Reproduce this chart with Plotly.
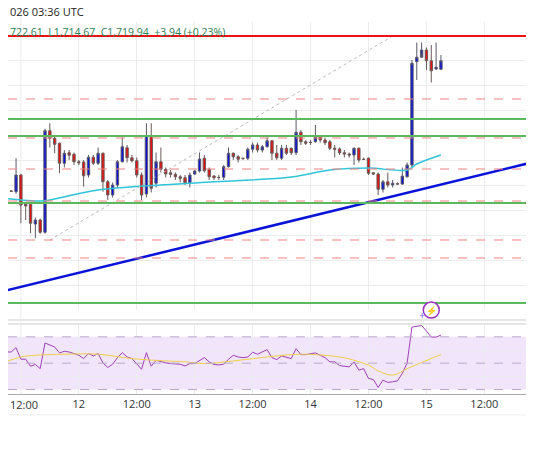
import plotly.graph_objects as go
import pandas as pd

opens = [1663.9,1667.9,1667.6,1667.3,1674.0,1662.3,1662.3,1654.4,1656.0,1651.1,1691.7,1688.7,1686.7,1678.7,1682.9,1682.3,1679.3,1679.2,1674.0,1681.1,
         1678.7,1682.7,1671.3,1666.0,1670.0,1679.3,1684.9,1680.9,1679.7,1674.0,1666.4,1689.6,1670.7,1679.3,1676.3,1674.9,1674.3,1673.3,1672.9,1670.9,
         1674.4,1675.6,1680.7,1676.3,1673.6,1673.1,1673.1,1677.3,1682.7,1681.3,1680.7,1680.7,1684.3,1686.0,1684.0,1685.3,1687.7,1682.7,1680.7,1684.7,
         1684.7,1682.9,1691.1,1687.3,1687.1,1687.3,1689.3,1688.0,1687.3,1684.7,1684.4,1682.9,1682.4,1682.0,1684.7,1680.3,1680.7,1674.9,1674.4,1668.3,
         1671.3,1670.0,1670.5,1670.4,1673.3,1678.0,1719.3,1721.1,1724.0,1719.7,1716.4,1716.3]
closes = [1667.9,1667.3,1667.5,1674.0,1662.0,1661.6,1654.7,1656.0,1651.1,1691.7,1688.7,1686.3,1678.7,1682.7,1681.9,1679.3,1678.9,1673.7,1681.1,1678.7,
          1682.7,1671.3,1666.0,1670.0,1679.3,1685.3,1680.9,1679.7,1674.0,1666.0,1689.7,1668.7,1679.3,1676.3,1674.4,1674.3,1673.3,1672.7,1670.9,1674.0,
          1675.6,1680.4,1675.7,1673.3,1672.9,1673.0,1677.3,1682.7,1681.3,1680.3,1680.6,1684.3,1686.0,1684.0,1685.3,1687.7,1682.7,1680.9,1684.7,1682.7,
          1682.9,1691.1,1687.3,1686.7,1687.0,1689.3,1688.0,1686.9,1684.7,1684.3,1682.9,1682.4,1682.0,1684.7,1680.0,1680.2,1674.7,1674.4,1668.3,1671.3,
          1670.0,1670.7,1670.4,1673.6,1678.0,1718.7,1721.1,1724.0,1719.7,1715.7,1717.1,1719.7]
highs = [1668.5,1668.3,1668.0,1680.7,1674.5,1662.8,1663.0,1657.0,1656.5,1692.5,1694.7,1690.0,1687.0,1684.0,1684.0,1683.0,1680.0,1680.0,1682.0,1682.0,
         1685.0,1683.0,1672.0,1671.0,1680.0,1689.0,1686.0,1682.0,1681.0,1675.0,1694.7,1694.7,1683.0,1685.0,1677.0,1676.0,1675.0,1674.0,1674.0,1675.0,
         1676.0,1683.0,1682.0,1677.0,1674.0,1674.0,1678.0,1685.0,1683.0,1682.0,1681.0,1685.0,1687.0,1687.0,1686.0,1689.0,1688.0,1686.0,1686.0,1686.0,
         1685.0,1700.0,1692.0,1688.0,1688.0,1694.0,1690.0,1689.0,1688.0,1686.0,1685.0,1684.0,1683.0,1685.0,1685.0,1681.0,1681.0,1675.0,1675.0,1672.0,
         1675.0,1672.0,1671.0,1677.0,1679.0,1720.0,1727.0,1727.0,1725.0,1726.0,1727.0,1722.0]
lows = [1663.0,1667.0,1667.2,1666.5,1654.7,1656.0,1650.7,1648.7,1650.5,1650.5,1685.0,1682.7,1674.7,1677.0,1680.0,1678.0,1678.0,1669.3,1673.0,1678.0,
        1678.0,1667.3,1664.0,1665.0,1669.0,1679.0,1679.0,1679.0,1673.0,1664.0,1665.0,1667.0,1669.0,1675.0,1673.0,1673.0,1672.0,1671.0,1670.0,1669.0,
        1674.0,1675.0,1675.0,1672.0,1672.0,1672.0,1672.0,1677.0,1680.0,1679.0,1680.0,1680.0,1683.0,1683.0,1683.0,1685.0,1680.0,1680.0,1680.0,1682.0,
        1682.0,1682.0,1686.0,1686.0,1686.0,1687.0,1687.0,1686.0,1684.0,1681.0,1682.0,1681.0,1681.0,1678.0,1679.0,1680.0,1674.0,1674.0,1666.0,1667.0,
        1669.0,1669.0,1670.0,1670.0,1673.0,1677.0,1712.0,1723.0,1716.0,1711.0,1716.0,1716.0]

rsi = [58.5,58.5,58.5,61.8,53.0,53.0,47.7,49.0,45.9,65.3,
       63.5,62.3,57.8,59.0,58.5,57.3,56.0,53.5,57.3,55.5,
       57.3,50.2,46.7,49.2,54.2,58.0,54.7,53.5,49.2,45.4,
       58.0,47.7,52.2,51.0,50.2,49.7,49.5,49.2,47.9,49.7,49.7,
       51.7,54.2,51.0,49.0,48.7,49.2,53.0,56.0,54.7,54.2,
       54.7,58.3,56.8,58.5,60.3,54.2,52.7,55.5,54.7,53.5,
       61.0,56.5,56.5,57.3,57.8,56.0,54.2,51.0,51.0,48.2,
       47.7,47.2,51.0,44.7,45.9,38.4,37.6,31.6,37.1,35.4,
       35.9,36.6,42.2,50.2,77.4,78.1,78.6,74.4,69.8,69.8,71.3]
rsi_ma_idx = [0,4,7,13,20,27,34,38,42,48,55,62,69,72,76,78,81,84,87,91]
rsi_ma = [49.7,54.7,56.0,56.8,56.8,53.5,51.7,51.0,49.7,51.7,54.7,56.8,55.2,53.2,48.5,44.2,40.9,45.9,50.5,56.5]
ma_idx = [0,8,10,20,40,60,68,76,84,86,91]
ma_vals = [1664.8,1663.6,1664.0,1668.0,1670.8,1673.2,1676.0,1676.8,1676.0,1678.4,1682.0]

hlines_green = [1696.4,1689.6,1662.8,1622.8]
hlines_reddash = [1704.4,1688.8,1676.4,1663.6,1648.0,1640.8]
resistance = 1729.6
tick_vals = ["2026-01-12","2026-01-12 12:00","2026-01-13","2026-01-13 12:00",
             "2026-01-14","2026-01-14 12:00","2026-01-15","2026-01-15 12:00"]
tick_text = ["12","12:00","13","12:00","14","12:00","15","12:00"]
first_tick = "2026-01-11 12:00"

t = pd.date_range("2026-01-11 08:00", periods=len(opens), freq="h")
x0 = pd.Timestamp("2026-01-11 09:20")
x1 = pd.Timestamp("2026-01-15 23:56")
xl = pd.Timestamp("2026-01-11 07:40")

fig = go.Figure()
fig.add_trace(go.Candlestick(x=t, open=opens, high=highs, low=lows, close=closes,
    increasing=dict(fillcolor="#0b10e0", line=dict(color="#5a5a6a", width=1)),
    decreasing=dict(fillcolor="#f00a0a", line=dict(color="#6a5a5a", width=1)),
    whiskerwidth=0, showlegend=False, xaxis="x", yaxis="y"))
fig.add_trace(go.Scatter(x=[t[i] for i in ma_idx], y=ma_vals, mode="lines",
    line=dict(color="#2fc4d8", width=1.5, shape="spline"), showlegend=False, yaxis="y"))
fig.add_trace(go.Scatter(x=[xl, x1], y=[1627.2, 1680.0], mode="lines",
    line=dict(color="#0a14d8", width=2.5), showlegend=False, yaxis="y"))
fig.add_trace(go.Scatter(x=[t[10], t[81]], y=[1648.0, 1729.6], mode="lines",
    line=dict(color="#bbbbbb", width=1, dash="dot"), showlegend=False, yaxis="y"))
fig.add_trace(go.Scatter(x=t, y=rsi, mode="lines", line=dict(color="#a040b8", width=1),
    showlegend=False, yaxis="y2"))
fig.add_trace(go.Scatter(x=[t[i] for i in rsi_ma_idx], y=rsi_ma, mode="lines",
    line=dict(color="#f0d040", width=1, shape="spline"), showlegend=False, yaxis="y2"))

shapes = []
for v in hlines_reddash:
    shapes.append(dict(type="line", xref="paper", x0=0, x1=1, yref="y", y0=v, y1=v,
                       line=dict(color="#f08080", width=1, dash="dash")))
for v in hlines_green:
    shapes.append(dict(type="line", xref="paper", x0=0, x1=1, yref="y", y0=v, y1=v,
                       line=dict(color="#5cb85c", width=2)))
shapes.append(dict(type="line", xref="paper", x0=0, x1=1, yref="y", y0=resistance, y1=resistance,
                   line=dict(color="#ee1111", width=2)))
shapes.append(dict(type="rect", xref="paper", x0=0, x1=1, yref="y2", y0=30, y1=70,
                   fillcolor="rgba(200,150,240,0.25)", line=dict(width=0), layer="below"))
for v in [70, 50, 30]:
    shapes.append(dict(type="line", xref="paper", x0=0, x1=1, yref="y2", y0=v, y1=v,
                       line=dict(color="#b8a8c8", width=1, dash="dash")))
for yy in [0.1917, 0.1813]:
    shapes.append(dict(type="line", xref="paper", yref="paper", x0=0, x1=1, y0=yy, y1=yy,
                       line=dict(color="#e6e6e6", width=2)))
shapes.append(dict(type="line", xref="paper", yref="paper", x0=0, x1=1, y0=-0.054, y1=-0.054,
                   line=dict(color="#eeeeee", width=1)))
shapes.append(dict(type="line", xref="x", yref="paper", x0=first_tick, x1=first_tick, y0=0, y1=1,
                   line=dict(color="#ececec", width=1), layer="below"))
shapes.append(dict(type="circle", xref="x", yref="paper", xsizemode="pixel", ysizemode="pixel",
                   xanchor=t[89], yanchor=0.2176, x0=-8, x1=8, y0=-8, y1=8,
                   line=dict(color="#9a30c0", width=1.5), fillcolor="white"))

fig.update_layout(
    width=534, height=462, margin=dict(l=0, r=0, t=0, b=76),
    paper_bgcolor="white", plot_bgcolor="white", shapes=shapes,
    xaxis=dict(range=[x0, x1], rangeslider=dict(visible=False), tickvals=tick_vals, ticktext=tick_text,
               showgrid=True, gridcolor="#ececec", showline=True, linecolor="#aaaaaa",
               tickfont=dict(family="Open Sans", size=11, color="#333"), ticks="", anchor="y2"),
    yaxis=dict(domain=[0.2176, 0.9637], range=[1620, 1735.2], showticklabels=False,
               dtick=10, tick0=1720, gridcolor="#ececec", zeroline=False),
    yaxis2=dict(domain=[0, 0.1788], range=[26.6, 79], showticklabels=False,
                tickvals=[40, 60], gridcolor="#ececec", zeroline=False),
    font=dict(family="Open Sans"),
)
fig.add_annotation(xref="paper", yref="paper", x=0, y=0.99, xanchor="left", yanchor="middle",
                   text="026 03:36 UTC", showarrow=False, font=dict(size=11, color="#222"))
fig.add_annotation(xref="paper", yref="paper", x=0, y=0.938, xanchor="left", yanchor="middle",
                   text="722.61  L1,714.67  C1,719.94  +3.94 (+0.23%)", showarrow=False,
                   font=dict(size=10.5, color="#2e7d52"))
fig.add_annotation(xref="paper", yref="paper", x=0, y=-0.028, xanchor="left", yanchor="middle",
                   text="12:00", showarrow=False, font=dict(family="Open Sans", size=11, color="#333"))
fig.add_annotation(x=t[89], y=0.2176, xref="x", yref="paper", yanchor="middle", text="⚡",
                   showarrow=False, font=dict(size=9, color="#9a30c0"))
fig.add_annotation(x=t[87], y=0.2176, xref="x", yref="paper", yanchor="middle", yshift=-4, text="+",
                   showarrow=False, font=dict(size=11, color="#7a5af0"))
fig.write_html("out.html")
